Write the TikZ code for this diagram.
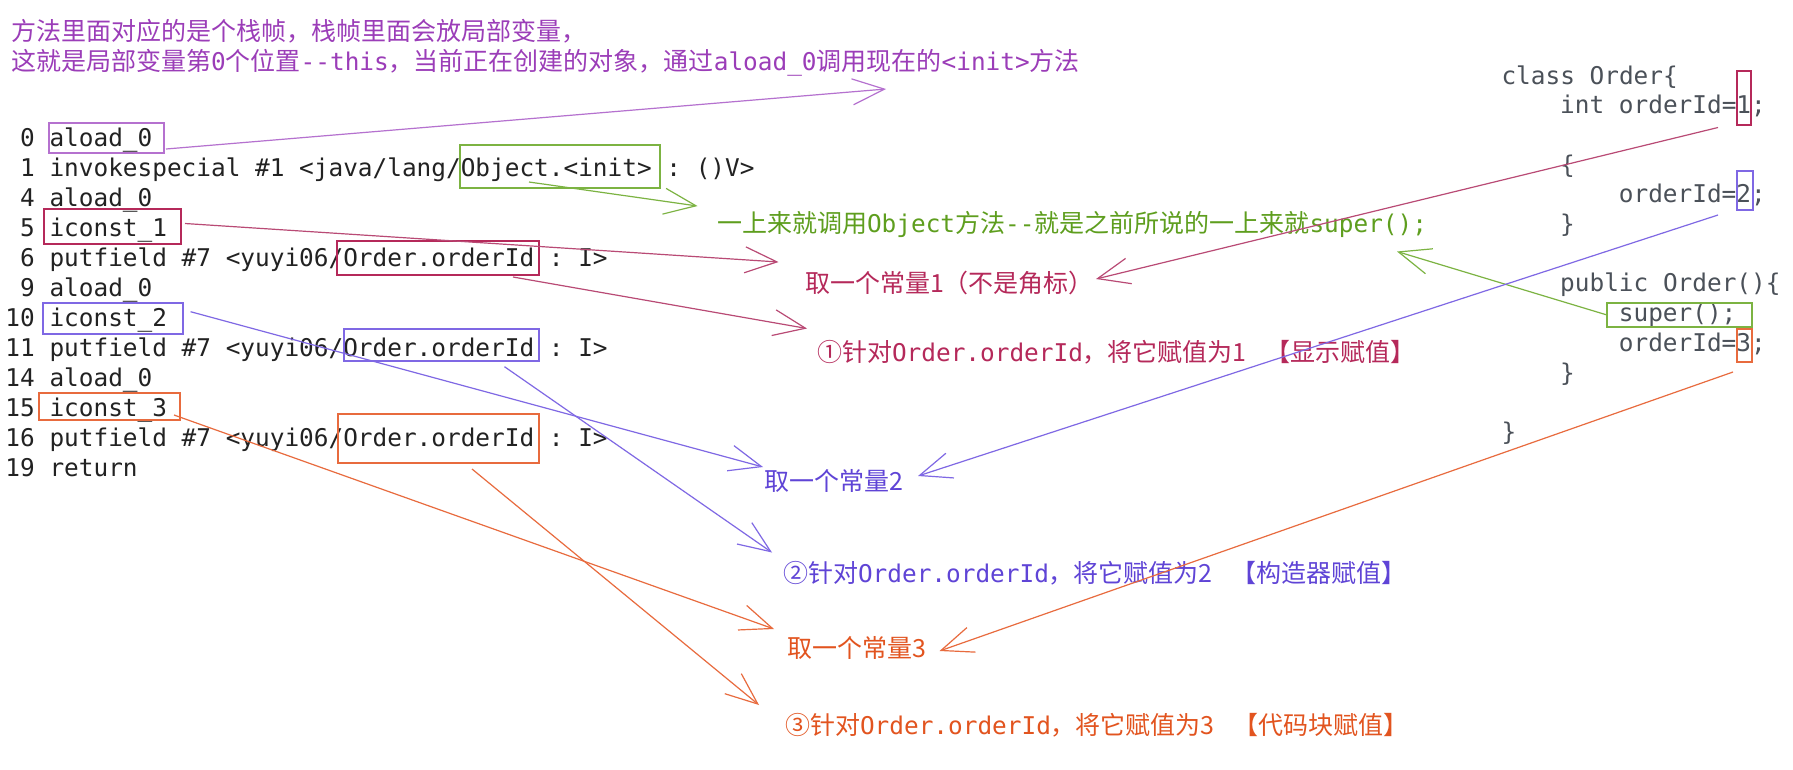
\documentclass[tikz,border=0pt]{standalone}
\usepackage{fontspec}
\usetikzlibrary{arrows.meta,calc}
\newfontfamily\cjkf{Noto Sans CJK SC}
\newfontfamily\monof{DejaVu Sans Mono}
\newcommand\Z[1]{{\cjkf\fontsize{25}{30}\selectfont\frenchspacing #1}}
\newcommand\M[1]{{\monof\fontsize{24.4}{30}\selectfont\frenchspacing #1}}
\newcommand\DD{\mbox{-}\mbox{-}}
\newcommand\GapB{\hspace{19pt}}
\definecolor{cPur}{HTML}{9B3DB8}
\definecolor{cPurL}{HTML}{B571CF}
\definecolor{cGrn}{HTML}{5E9E1E}
\definecolor{cGrnL}{HTML}{7CB342}
\definecolor{cRed}{HTML}{B5295A}
\definecolor{cRedL}{HTML}{B94A75}
\definecolor{cBlu}{HTML}{5F44D6}
\definecolor{cBluL}{HTML}{7F68E4}
\definecolor{cOra}{HTML}{E2541F}
\definecolor{cOraL}{HTML}{E86B3E}
\definecolor{codeC}{HTML}{222222}
\definecolor{grayC}{HTML}{4B5159}
\tikzset{
  txt/.style={inner sep=0pt, outer sep=0pt, anchor=base west},
  code/.style={txt, text=codeC},
  num/.style={inner sep=0pt, outer sep=0pt, anchor=base east, text=codeC},
  rcode/.style={txt, text=grayC},
  hl/.style={draw=#1, line width=1.1pt, inner sep=0pt, outer sep=0pt},
  arr/.style={draw=#1, line width=1.2pt, -{Straight Barb[length=32pt,width=26pt]}},
}
\begin{document}
\frenchspacing
\begin{tikzpicture}[x=1pt,y=-1pt]
\useasboundingbox[fill=white] (0,0) rectangle (1793,769);

% ---- top comment
\node[txt, text=cPur] (top1) at (11,40) {\Z{方法里面对应的是个栈帧，栈帧里面会放局部变量，}};
\node[txt, text=cPur] (top2) at (11,70) {\Z{这就是局部变量第}\M{0}\Z{个位置}\M{\DD this}\Z{，当前正在创建的对象，通过}\M{aload\_0}\Z{调用现在的}\M{<init>}\Z{方法}};

% ---- bytecode listing
\node[num] (n0) at (34.8,146.5) {\M{0}};
\node[code] (l0) at (49.5,146.5) {\M{aload\_0}};
\node[num] (n1) at (34.8,176.5) {\M{1}};
\node[code] (l1) at (49.5,176.5) {\M{invokespecial \#1 <java/lang/Object.<init> : ()V>}};
\node[num] (n2) at (34.8,206.5) {\M{4}};
\node[code] (l2) at (49.5,206.5) {\M{aload\_0}};
\node[num] (n3) at (34.8,236.5) {\M{5}};
\node[code] (l3) at (49.5,236.5) {\M{iconst\_1}};
\node[num] (n4) at (34.8,266.5) {\M{6}};
\node[code] (l4) at (49.5,266.5) {\M{putfield \#7 <yuyi06/Order.orderId : I>}};
\node[num] (n5) at (34.8,296.5) {\M{9}};
\node[code] (l5) at (49.5,296.5) {\M{aload\_0}};
\node[num] (n6) at (34.8,326.5) {\M{10}};
\node[code] (l6) at (49.5,326.5) {\M{iconst\_2}};
\node[num] (n7) at (34.8,356.5) {\M{11}};
\node[code] (l7) at (49.5,356.5) {\M{putfield \#7 <yuyi06/Order.orderId : I>}};
\node[num] (n8) at (34.8,386.5) {\M{14}};
\node[code] (l8) at (49.5,386.5) {\M{aload\_0}};
\node[num] (n9) at (34.8,416.5) {\M{15}};
\node[code] (l9) at (49.5,416.5) {\M{iconst\_3}};
\node[num] (n10) at (34.8,446.5) {\M{16}};
\node[code] (l10) at (49.5,446.5) {\M{putfield \#7 <yuyi06/Order.orderId : I>}};
\node[num] (n11) at (34.8,476.5) {\M{19}};
\node[code] (l11) at (49.5,476.5) {\M{return}};

% ---- highlight boxes (listing)
\node[hl=cPurL, minimum width=115, minimum height=30] (bA) at (106.5,138) {};
\node[hl=cGrnL, minimum width=200, minimum height=43] (bO) at (560,166.5) {};
\node[hl=cRed, minimum width=137, minimum height=35] (b1) at (112.5,226.5) {};
\node[hl=cRed, minimum width=202, minimum height=34] (bR1) at (438,258) {};
\node[hl=cBluL, minimum width=140, minimum height=31] (b2) at (113,318.5) {};
\node[hl=cBluL, minimum width=195, minimum height=32] (bR2) at (441.5,345) {};
\node[hl=cOraL, minimum width=141, minimum height=27] (b3) at (109.5,406.5) {};
\node[hl=cOraL, minimum width=201, minimum height=49] (bR3) at (438.5,438.5) {};

% ---- class Order source
\node[rcode] (r0) at (1501.5,84) {\M{class Order\{}};
\node[rcode] (r1) at (1560.2,113.7) {\M{int orderId=1;}};
\node[rcode] (r3) at (1560.2,173.1) {\M{\{}};
\node[rcode] (r4) at (1618.9,202.8) {\M{orderId=2;}};
\node[rcode] (r5) at (1560.2,232.5) {\M{\}}};
\node[rcode] (r7) at (1560.2,291.9) {\M{public Order()\{}};
\node[rcode] (r8) at (1618.9,321.6) {\M{super();}};
\node[rcode] (r9) at (1618.9,351.3) {\M{orderId=3;}};
\node[rcode] (r10) at (1560.2,381) {\M{\}}};
\node[rcode] (r12) at (1501.5,440.4) {\M{\}}};

\node[hl=cRed, minimum width=14, minimum height=54] (c1) at (1744,98) {};
\node[hl=cBluL, minimum width=16, minimum height=39] (c2) at (1745,190.5) {};
\node[hl=cGrnL, minimum width=145, minimum height=24] (cS) at (1679.5,315) {};
\node[hl=cOraL, minimum width=15, minimum height=33] (c3) at (1744.5,345.5) {};

% ---- annotations
\node[txt, text=cGrn] (g1) at (717,232) {\Z{一上来就调用}\M{Object}\Z{方法}\M{\DD}\Z{就是之前所说的一上来就}\M{super();}};
\node[txt, text=cRed] (k1) at (805,292) {\Z{取一个常量1（不是角标）}};
\node[txt, text=cRed] (a1) at (817,361) {\Z{①针对}\M{Order.orderId}\Z{，将它赋值为1\GapB【显示赋值】}};
\node[txt, text=cBlu] (k2) at (764,490) {\Z{取一个常量2}};
\node[txt, text=cBlu] (a2) at (783,582) {\Z{②针对}\M{Order.orderId}\Z{，将它赋值为2\GapB【构造器赋值】}};
\node[txt, text=cOra] (k3) at (787,657) {\Z{取一个常量3}};
\node[txt, text=cOra] (a3) at (785,734) {\Z{③针对}\M{Order.orderId}\Z{，将它赋值为3\GapB【代码块赋值】}};

% ---- arrow tips
\coordinate (t1) at (886,89);
\coordinate (t2) at (697.5,206);
\coordinate (t3) at (1397,251.5);
\coordinate (t4) at (778.5,262);
\coordinate (t5) at (807,328.5);
\coordinate (t6) at (1096,279);
\coordinate (t7) at (763,467);
\coordinate (t8) at (772,552.5);
\coordinate (t9) at (918,476);
\coordinate (t10) at (774,629);
\coordinate (t11) at (759,705);
\coordinate (t12) at (939.5,651);

% ---- connectors
\draw[arr=cPurL] ($(bA.south east)+(2,-4)$) -- (t1);
\draw[arr=cGrnL] ($(bO.south)+(-31,-6)$) -- (t2);
\draw[arr=cGrnL] (cS.west) -- (t3);
\draw[arr=cRedL] ($(b1.east)+(4,-3)$) -- (t4);
\draw[arr=cRedL] ($(bR1.south)+(75,2)$) -- (t5);
\draw[arr=cRedL] ($(c1.south west)+(-19,2.5)$) -- (t6);
\draw[arr=cBluL] ($(b2.east)+(7.6,-6.8)$) -- (t7);
\draw[arr=cBluL] ($(bR2.south)+(63,5.7)$) -- (t8);
\draw[arr=cBluL] ($(c2.south west)+(-19,5)$) -- (t9);
\draw[arr=cOraL] ($(b3.east)+(-6,8.5)$) -- (t10);
\draw[arr=cOraL] ($(bR3.south)+(33.5,6)$) -- (t11);
\draw[arr=cOraL] ($(c3.south)+(-11.5,10)$) -- (t12);
\end{tikzpicture}
\end{document}
